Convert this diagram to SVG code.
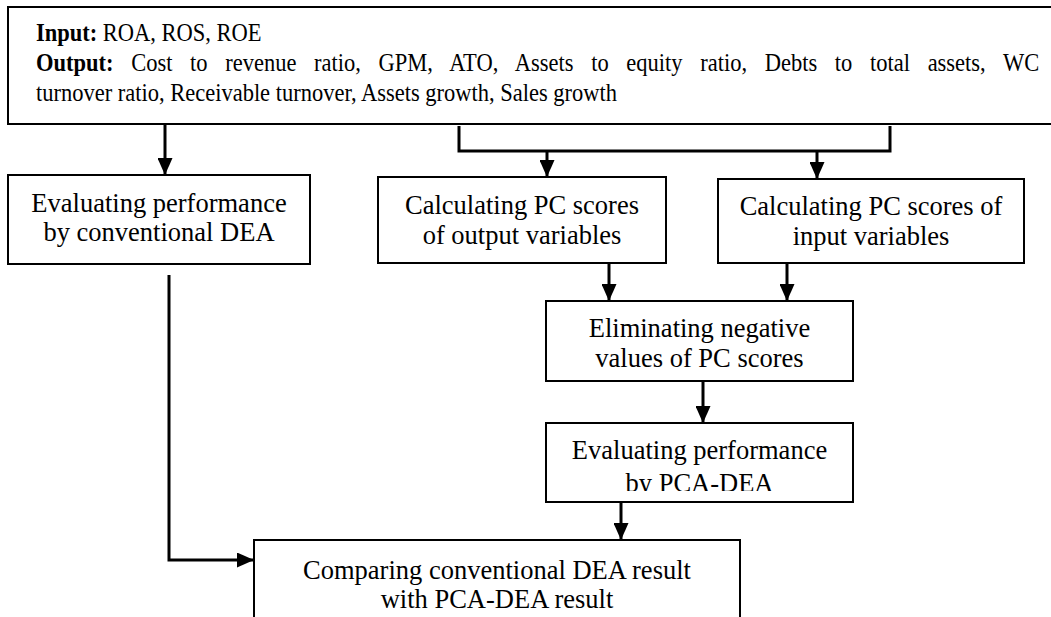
<svg xmlns="http://www.w3.org/2000/svg" width="1051" height="617" viewBox="0 0 1051 617" font-family="Liberation Serif, serif">
  <style>
    .box { fill: #fff; stroke: #000; stroke-width: 2; }
    .t { font-family: Liberation Serif, serif; font-size: 26.5px; fill: #000; text-anchor: middle; }
    .h { font-family: Liberation Serif, serif; font-size: 25px; fill: #000; }
    .c { fill: none; stroke: #000; stroke-width: 3; }
  </style>
  <defs>
    <marker id="arr" viewBox="0 0 17 15" refX="17" refY="7.5" markerWidth="17" markerHeight="15" markerUnits="userSpaceOnUse" orient="auto">
      <path d="M0,0 L17,7.5 L0,15 Z" fill="#000"/>
    </marker>
    <clipPath id="clipPca">
      <rect x="546" y="423" width="307" height="68"/>
    </clipPath>
  </defs>

  <g id="connectors">
    <path class="c" d="M165,124 V175" marker-end="url(#arr)"/>
    <path class="c" d="M459,126 V151 H890 V126"/>
    <path class="c" d="M547,151 V177" marker-end="url(#arr)"/>
    <path class="c" d="M817,151 V179" marker-end="url(#arr)"/>
    <path class="c" d="M169,275 V560 H254" marker-end="url(#arr)"/>
    <path class="c" d="M609,263 V301" marker-end="url(#arr)"/>
    <path class="c" d="M787,263 V301" marker-end="url(#arr)"/>
    <path class="c" d="M703,381 V423" marker-end="url(#arr)"/>
    <path class="c" d="M621,502 V540" marker-end="url(#arr)"/>
  </g>

  <g id="header">
    <rect class="box" x="8" y="7" width="1060" height="117"/>
    <g transform="translate(36,0) scale(0.9,1)">
      <text class="h" x="0" y="41"><tspan font-weight="bold">Input:</tspan> ROA, ROS, ROE</text>
      <text class="h" x="0" y="71" word-spacing="13.4"><tspan font-weight="bold">Output:</tspan> Cost to revenue ratio, GPM, ATO, Assets to equity ratio, Debts to total assets, WC</text>
      <text class="h" x="0" y="101">turnover ratio, Receivable turnover, Assets growth, Sales growth</text>
    </g>
  </g>

  <g id="conventional">
    <rect class="box" x="8" y="175" width="302" height="89"/>
    <text class="t" x="159" y="212">Evaluating performance</text>
    <text class="t" x="159" y="241">by conventional DEA</text>
  </g>

  <g id="pc-output">
    <rect class="box" x="378" y="177" width="288" height="86"/>
    <text class="t" x="522" y="214">Calculating PC scores</text>
    <text class="t" x="522" y="244">of output variables</text>
  </g>

  <g id="pc-input">
    <rect class="box" x="718" y="179" width="306" height="84"/>
    <text class="t" x="871" y="215">Calculating PC scores of</text>
    <text class="t" x="871" y="245">input variables</text>
  </g>

  <g id="eliminate">
    <rect class="box" x="546" y="301" width="307" height="80"/>
    <text class="t" x="699.5" y="337">Eliminating negative</text>
    <text class="t" x="699.5" y="367">values of PC scores</text>
  </g>

  <g id="pca-dea">
    <rect class="box" x="546" y="423" width="307" height="79"/>
    <text class="t" x="699.5" y="459">Evaluating performance</text>
    <text class="t" x="699.5" y="492" clip-path="url(#clipPca)">by PCA-DEA</text>
  </g>

  <g id="compare">
    <rect class="box" x="254" y="540" width="486" height="100"/>
    <text class="t" x="497" y="579">Comparing conventional DEA result</text>
    <text class="t" x="497" y="608">with PCA-DEA result</text>
  </g>
</svg>
